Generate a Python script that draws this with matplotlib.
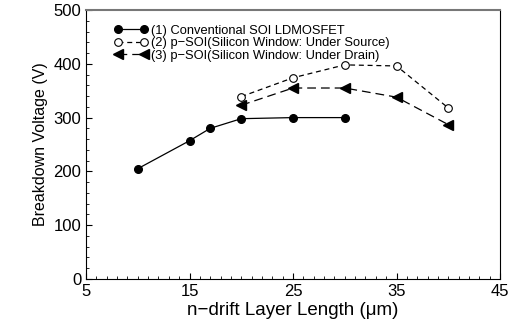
import matplotlib
matplotlib.use("Agg")
import matplotlib.pyplot as plt
from matplotlib.ticker import MultipleLocator

plt.rcParams["font.family"] = ["Liberation Sans", "DejaVu Sans"]

x_conv = [10, 15, 17, 20, 25, 30]
bv_conv = [205, 257, 280, 298, 300, 300]

x_src = [20, 25, 30, 35, 40]
bv_src = [339, 374, 398, 396, 318]

x_drn = [20, 25, 30, 35, 40]
bv_drn = [323, 355, 355, 338, 287]

x_ticks = [5, 15, 25, 35, 45]

labels = [
    "(1) Conventional SOI LDMOSFET",
    "(2) p\u2212SOI(Silicon Window: Under Source)",
    "(3) p\u2212SOI(Silicon Window: Under Drain)",
]

fig = plt.figure(figsize=(5.12, 3.27), dpi=100)
ax = fig.add_axes([86 / 512, 1 - 279 / 327, 414 / 512, 269 / 327])

ax.plot(x_conv, bv_conv, color="black", lw=0.9, marker="o", ms=5.5,
        label=labels[0])
ax.plot(x_src, bv_src, color="black", lw=0.9, ls=(0, (4, 3)), marker="o",
        ms=5.5, mfc="white", mew=0.8, label=labels[1])
ax.plot(x_drn, bv_drn, color="black", lw=0.9, ls=(0, (7, 4)), marker="<",
        ms=6.5, label=labels[2])

ax.set_xlim(5, 45)
ax.set_ylim(0, 500)
ax.set_xticks(x_ticks)
ax.xaxis.set_minor_locator(MultipleLocator(1))
ax.yaxis.set_major_locator(MultipleLocator(100))
ax.yaxis.set_minor_locator(MultipleLocator(20))
ax.tick_params(which="both", direction="in", labelsize=12)
ax.tick_params(which="major", length=4)
ax.tick_params(which="minor", length=2)
ax.spines["top"].set_color("#777777")
ax.spines["top"].set_linewidth(1.5)

ax.set_xlabel("n\u2212drift Layer Length (\u03bcm)", fontsize=13.5, labelpad=2)
ax.set_ylabel("Breakdown Voltage (V)", fontsize=11.5)

ax.legend(loc="upper left", frameon=False, fontsize=9.3, numpoints=2,
          handlelength=2.6, handletextpad=0.3, labelspacing=0.05,
          bbox_to_anchor=(0.055, 0.965), borderaxespad=0)

fig.savefig("out.png", dpi=100)
